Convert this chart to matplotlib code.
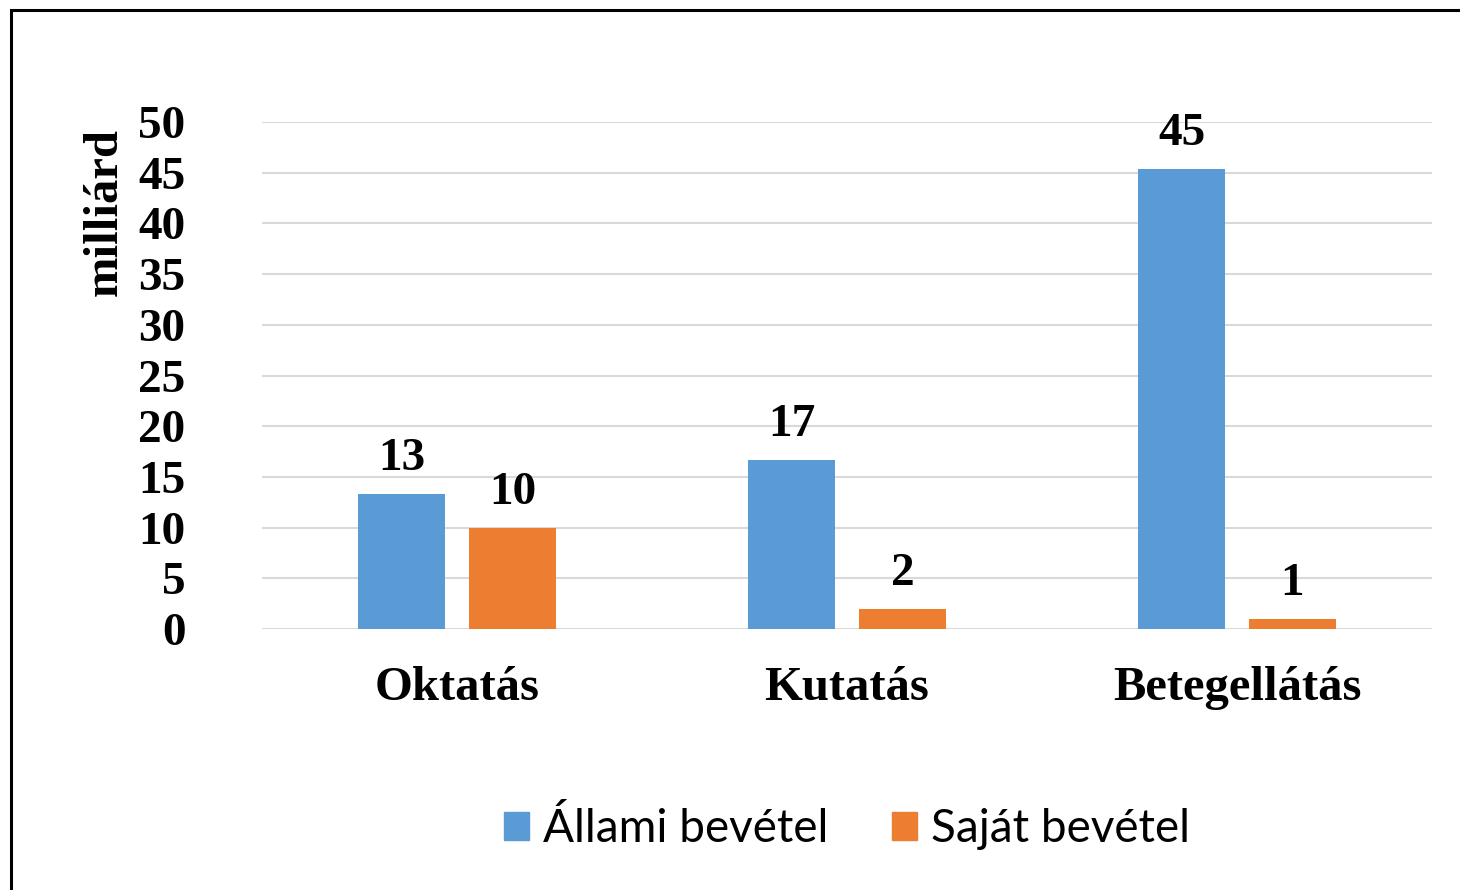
import matplotlib.pyplot as plt
import matplotlib.patches as mpatches
import numpy as np

categories = ["Oktatás", "Kutatás", "Betegellátás"]
allami = [13.3, 16.7, 45.4]  # Állami bevétel, milliárd
sajat = [10.0, 2.0, 1.0]      # Saját bevétel, milliárd
series_names = ["Állami bevétel", "Saját bevétel"]
yticks = list(range(0, 51, 5))

blue = "#5B9BD5"
orange = "#ED7D31"
grid_col = "#D9D9D9"
serif = ["Liberation Serif", "DejaVu Serif"]

fig = plt.figure(figsize=(14.6, 8.9), dpi=100)
ax = fig.add_axes([262/1460, 1 - 629/890, 1170/1460, 507/890])

x = np.arange(len(categories))
w = 0.223
off = 0.142
b1 = ax.bar(x - off, allami, w, color=blue, zorder=3)
b2 = ax.bar(x + off, sajat, w, color=orange, zorder=3)

# value labels above bars
for bars, vals in [(b1, allami), (b2, sajat)]:
    for rect, v in zip(bars, vals):
        ax.annotate("{:.0f}".format(v), (rect.get_x() + rect.get_width()/2, v),
                    xytext=(0, 10), textcoords="offset points", ha="center", va="bottom",
                    fontsize=34, fontweight="bold", family=serif)

ax.set_xlim(-0.5, 2.5)
ax.set_ylim(0, 50)
ax.set_yticks(yticks)
ax.set_yticklabels([str(t) for t in yticks], fontsize=34, fontweight="bold", family=serif)
ax.set_xticks(x)
ax.set_xticklabels(categories, fontsize=35, fontweight="bold", family=serif)
ax.tick_params(axis="y", length=0, pad=55)
ax.tick_params(axis="x", length=0, pad=27)
ax.yaxis.grid(True, color=grid_col, linewidth=1.5, zorder=0)
for s in ax.spines.values():
    s.set_visible(False)

fig.text(105/1460, 1 - 212/890, "milliárd", rotation=90, ha="center", va="center",
         fontsize=35, fontweight="bold", family=serif)

handles = [mpatches.Patch(color=blue), mpatches.Patch(color=orange)]
fig.legend(handles, series_names, loc="center", bbox_to_anchor=(847/1460, 1 - 829/890),
           ncol=2, frameon=False, prop={"family": "Lato", "size": 33},
           handlelength=0.55, handleheight=0.55, handletextpad=0.3, columnspacing=1.4)

# frame around the chart (right/bottom edges run off the image)
fig.patches.append(mpatches.Rectangle((10.5/1460, -0.1), 1.2, 1.1 - 10.5/890,
                                      transform=fig.transFigure, fill=False,
                                      edgecolor="black", linewidth=2.2))

fig.savefig("out.png", dpi=100)
